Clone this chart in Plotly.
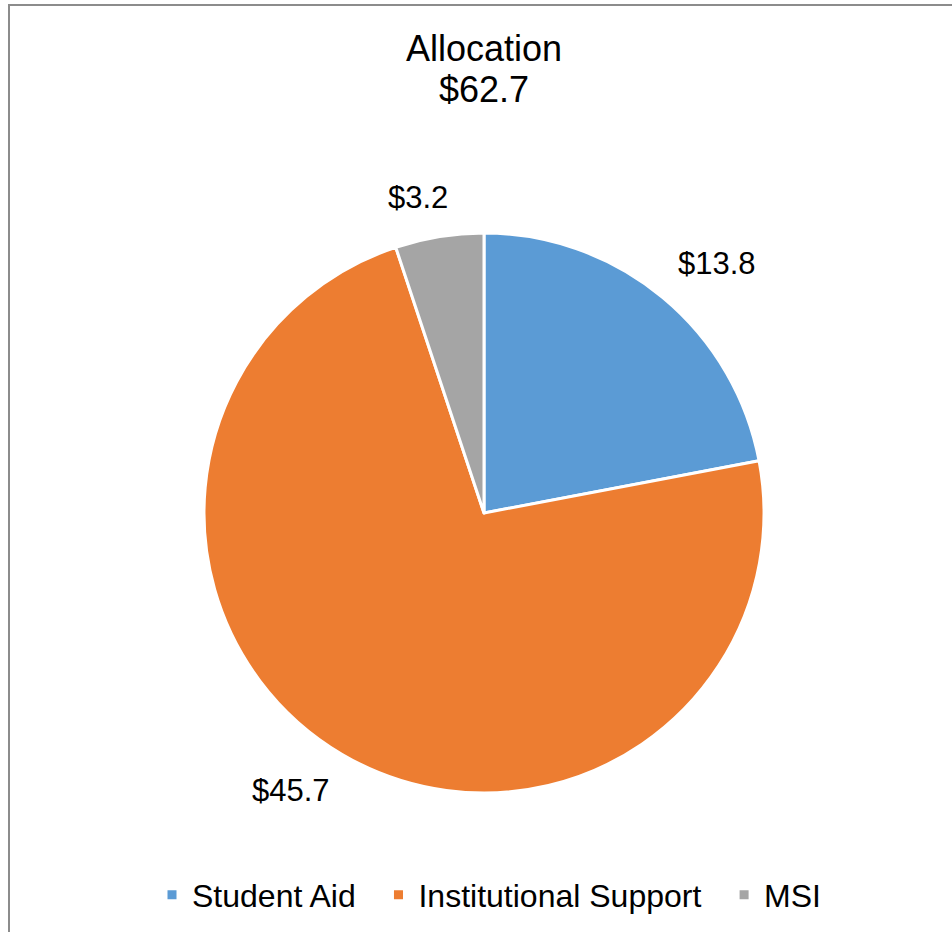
import numpy as np
import plotly.graph_objects as go

# Allocation breakdown ($ millions)
categories = ["Student Aid", "Institutional Support", "MSI"]
values = [13.8, 45.7, 3.2]
colors = ["#5B9BD5", "#ED7D31", "#A5A5A5"]
title_text = "Allocation"

W, H = 952, 932
CX, CY, R = 484, 513, 280          # pie centre and radius in pixels
FONT = "Arial, Liberation Sans, sans-serif"
LABEL_SIZE = 31
LABEL_GAP = 24
LEGEND_PAD = "\u00a0" * 2           # extra room between legend entries

total = sum(values)

fig = go.Figure()
fig.add_trace(go.Pie(
    labels=[c + LEGEND_PAD for c in categories],
    values=values,
    marker=dict(colors=colors, line=dict(color="white", width=3)),
    sort=False,
    direction="clockwise",
    rotation=0,
    textinfo="none",
    hoverinfo="label+value",
    domain=dict(x=[(CX - R) / W, (CX + R) / W],
                y=[1 - (CY + R) / H, 1 - (CY - R) / H]),
))

# Value labels: the label corner nearest the pie sits on the slice's mid-angle ray
fractions = np.array(values) / total
ends = np.cumsum(fractions) * 2 * np.pi
mids = ends - fractions * np.pi
for v, a in zip(values, mids):
    txt = f"${v:.1f}"
    hw = 0.5 * 0.5 * LABEL_SIZE * len(txt)
    hh = 0.5 * LABEL_SIZE
    d = R + LABEL_GAP
    px = CX + d * np.sin(a) + np.clip(3.5 * np.sin(a), -1, 1) * hw
    py = CY - d * np.cos(a) - np.clip(3.5 * np.cos(a), -1, 1) * hh
    fig.add_annotation(x=px / W, y=1 - py / H, xref="paper", yref="paper",
                       text=txt, showarrow=False, xanchor="center", yanchor="middle",
                       font=dict(family=FONT, size=LABEL_SIZE, color="#000000"))

# Two-line title: name and total
fig.add_annotation(x=CX / W, y=1 - 48 / H, xref="paper", yref="paper",
                   text=title_text, showarrow=False, xanchor="center", yanchor="middle",
                   font=dict(family=FONT, size=36, color="#000000"))
fig.add_annotation(x=CX / W, y=1 - 90 / H, xref="paper", yref="paper",
                   text=f"${total:.1f}", showarrow=False, xanchor="center", yanchor="middle",
                   font=dict(family=FONT, size=36, color="#000000"))

# Chart frame
fig.add_shape(type="rect", xref="paper", yref="paper",
              x0=9 / W, x1=1.02, y0=-0.02, y1=1 - 5 / H,
              line=dict(color="#8C8C8C", width=2), fillcolor="rgba(0,0,0,0)")

fig.update_layout(
    width=W, height=H,
    margin=dict(l=0, r=0, t=0, b=0),
    paper_bgcolor="white",
    plot_bgcolor="white",
    showlegend=True,
    legend=dict(orientation="h", x=498 / W, xanchor="center",
                y=1 - 895 / H, yanchor="middle",
                font=dict(family=FONT, size=32, color="#000000"),
                itemwidth=30, traceorder="normal"),
)

fig.write_html("out.html")
